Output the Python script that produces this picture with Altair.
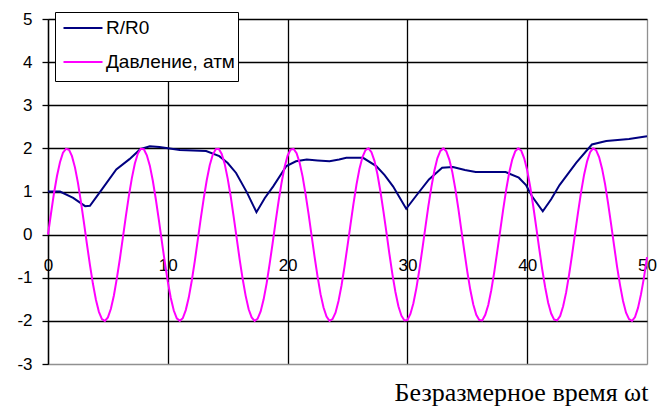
import altair as alt
import pandas as pd

# R/R0 series
blue_t = [0, 1.0, 2.1, 3.1, 3.5, 4.5, 5.7, 6.8, 7.7, 8.5, 9.3, 11.0, 13.2, 14.3, 15.0,
          15.7, 16.6, 17.4, 18.1, 18.8, 19.9, 20.7, 21.6, 22.5, 23.5, 24.3, 24.9, 26.3,
          27.4, 28.1, 28.8, 29.9, 30.7, 31.8, 32.9, 33.8, 34.8, 35.7, 38.2, 39.3, 39.9,
          40.4, 41.3, 42.0, 42.7, 44.1, 45.4, 46.6, 48.5, 50.0]
blue_v = [1.0, 1.0, 0.85, 0.66, 0.67, 1.05, 1.51, 1.75, 1.98, 2.05, 2.03, 1.96, 1.94, 1.82, 1.66,
          1.43, 0.98, 0.52, 0.85, 1.12, 1.59, 1.70, 1.74, 1.72, 1.70, 1.74, 1.78, 1.78,
          1.59, 1.38, 1.12, 0.60, 0.89, 1.28, 1.55, 1.57, 1.50, 1.45, 1.45, 1.32, 1.15,
          0.89, 0.54, 0.82, 1.15, 1.67, 2.09, 2.17, 2.22, 2.28]

pressure = [
    0.00, 0.49, 0.96, 1.36, 1.68, 1.90, 1.99, 1.97, 1.82, 1.56,
    1.20, 0.76, 0.28, -0.22, -0.70, -1.14, -1.51, -1.79, -1.96, -2.00,
    -1.92, -1.72, -1.41, -1.01, -0.56, -0.07, 0.43, 0.90, 1.31, 1.65,
    1.88, 1.99, 1.98, 1.84, 1.60, 1.25, 0.82, 0.35, -0.15, -0.64,
    -1.09, -1.47, -1.76, -1.94, -2.00, -1.94, -1.75, -1.46, -1.07, -0.62,
    -0.13, 0.37, 0.84, 1.26, 1.61, 1.85, 1.98, 1.99, 1.87, 1.64,
    1.30, 0.89, 0.41, -0.08, -0.58, -1.03, -1.42, -1.73, -1.92, -2.00,
    -1.95, -1.78, -1.50, -1.13, -0.68, -0.20, 0.30, 0.78, 1.21, 1.57,
    1.83, 1.97, 1.99, 1.89, 1.67, 1.35, 0.94, 0.48, -0.02, -0.51,
    -0.97, -1.38, -1.69, -1.90, -2.00, -1.96, -1.81, -1.54, -1.18, -0.74,
    -0.26, 0.23, 0.72, 1.16, 1.53, 1.80, 1.96, 2.00, 1.91, 1.71,
    1.40, 1.00, 0.54, 0.05, -0.45, -0.92, -1.33, -1.66, -1.88, -1.99,
    -1.98, -1.84, -1.59, -1.24, -0.81, -0.33, 0.17, 0.66, 1.10, 1.48,
    1.77, 1.94, 2.00, 1.93, 1.74, 1.45, 1.06, 0.61, 0.11, -0.38,
    -0.86, -1.28, -1.62, -1.86, -1.98, -1.99, -1.86, -1.63, -1.29, -0.87,
    -0.39, 0.10, 0.59, 1.05, 1.44, 1.74, 1.93, 2.00, 1.95, 1.77,
    1.49, 1.11, 0.67, 0.18, -0.32, -0.80, -1.22, -1.58, -1.83, -1.97,
    -1.99, -1.89, -1.66, -1.34, -0.92, -0.46, 0.04, 0.53, 0.99, 1.39,
    1.70, 1.91, 2.00, 1.96, 1.80, 1.53, 1.17, 0.73, 0.25, -0.25,
    -0.74, -1.17, -1.54, -1.81, -1.96, -2.00, -1.91, -1.70, -1.38, -0.99,
    -0.52]
pressure_t = [k * 0.25 for k in range(len(pressure))]

series = ["R/R0", "Давление, атм"]
colors = ["#000080", "#FF00FF"]
x_ticks = [0, 10, 20, 30, 40, 50]
y_ticks = [-3, -2, -1, 0, 1, 2, 3, 4, 5]

rows = [{"t": t, "v": v, "s": series[0], "o": 0} for t, v in zip(blue_t, blue_v)]
rows += [{"t": t, "v": v, "s": series[1], "o": 1} for t, v in zip(pressure_t, pressure)]
df = pd.DataFrame(rows)

chart = alt.Chart(df).mark_line(strokeWidth=2).encode(
    x=alt.X("t:Q",
            scale=alt.Scale(domain=[0, 50], nice=False, zero=False),
            axis=alt.Axis(values=x_ticks, title=None, offset=-129, domain=False,
                          ticks=False, labelPadding=22, labelFontSize=17,
                          labelFont="Liberation Sans", labelColor="black",
                          labelExpr="toString(datum.value)",
                          labelAngle=0, labelFlush=False, grid=True,
                          gridColor={"condition": {"test": "datum.value == 50", "value": "#909090"},
                                     "value": "black"},
                          gridWidth=1.3)),
    y=alt.Y("v:Q",
            scale=alt.Scale(domain=[-3, 5], nice=False, zero=False),
            axis=alt.Axis(values=y_ticks, title=None, domain=True, domainColor="black",
                          domainWidth=1.3, ticks=True, tickSize=6, tickColor="black",
                          tickWidth=1.3, labelPadding=10, labelFontSize=17,
                          labelFont="Liberation Sans", labelColor="black",
                          labelExpr="toString(datum.value)",
                          labelFlush=False, grid=True,
                          gridColor={"condition": {"test": "datum.value == -3", "value": "#909090"},
                                     "value": "black"},
                          gridWidth=1.3)),
    color=alt.Color("s:N", scale=alt.Scale(domain=series, range=colors), sort=series,
                    legend=alt.Legend(title=None, orient="none", legendX=7, legendY=-7,
                                      fillColor="white", strokeColor="black",
                                      padding=3, symbolType="M0,-1M0,1M-1.625,0H1.625",
                                      symbolSize=576, symbolStrokeWidth=2,
                                      symbolOffset=12, labelOffset=10, rowPadding=2,
                                      labelFontSize=19, labelFont="Liberation Sans",
                                      labelColor="black", cornerRadius=0)),
    order="o:Q",
    detail="s:N",
).properties(
    width=599,
    height=345,
    title=alt.TitleParams("Безразмерное время ωt", orient="bottom", anchor="end",
                          font="Liberation Serif", fontSize=26, fontWeight="normal",
                          color="black", offset=8, dx=-8),
    autosize=alt.AutoSizeParams(type="none"),
    padding={"left": 48, "top": 19, "right": 12, "bottom": 42},
).configure_view(
    stroke="#909090", strokeWidth=1.3
).configure(background="white")

chart.save("out.html", embed_options={"renderer": "svg", "actions": False})
